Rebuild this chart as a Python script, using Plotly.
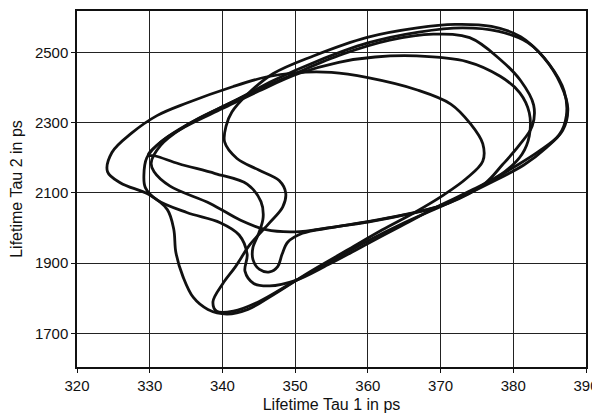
import plotly.graph_objects as go

# Tick labels
x_ticks = [320, 330, 340, 350, 360, 370, 380, 390]
y_ticks = [1700, 1900, 2100, 2300, 2500]

# Loop A: outer-left loop continuing into the inner "C"
loopA_x = [324.2, 324.8, 327.5, 331.0, 335.1, 341.5, 346.0, 350.0, 355.0, 360.0, 366.8, 371.4, 374.1, 375.8,
           375.8, 373.5, 370.5, 366.5, 362.0, 357.0, 352.0, 347.0, 343.5, 340.6, 338.0, 336.0, 334.6, 333.6,
           333.3, 332.4, 329.9, 326.0, 324.2]
loopA_y = [2160, 2215, 2270, 2320, 2356, 2403, 2430, 2442, 2443, 2428, 2393, 2353, 2297, 2240,
           2190, 2140, 2095, 2045, 1995, 1935, 1875, 1810, 1768, 1755, 1768, 1802, 1860, 1930,
           1997, 2053, 2095, 2128, 2160]

# Loop I: innermost vertical loop, wide on the right
loopI_x = [340.5, 341.3, 343.4, 347.0, 352.5, 359.9, 366.8, 372.0, 377.0, 381.0, 384.2, 386.5, 387.5, 386.8,
           384.5, 381.5, 377.0, 371.5, 365.0, 359.5, 354.5, 349.5, 345.0, 341.5, 339.2, 338.7, 340.0, 341.8,
           343.8, 346.5, 348.3, 348.7, 347.8, 345.0, 342.0, 340.3, 340.5]
loopI_y = [2290, 2330, 2380, 2440, 2490, 2543, 2570, 2580, 2574, 2545, 2485, 2410, 2340, 2278,
           2228, 2180, 2130, 2075, 2015, 1958, 1900, 1843, 1790, 1763, 1763, 1790, 1840, 1890,
           1953, 2015, 2060, 2100, 2135, 2165, 2198, 2245, 2290]

# Loop B: left tip near 330, lower side through the small notch
loopB_x = [329.8, 332.5, 336.5, 341.5, 347.0, 353.0, 360.0, 367.0, 373.0, 378.0, 382.0, 385.0, 387.0, 387.3,
           386.3, 383.5, 380.0, 375.5, 370.0, 365.0, 360.0, 355.0, 351.0, 349.0, 348.2, 347.6, 346.5, 345.1,
           344.2, 344.2, 345.0, 345.6, 345.3, 343.4, 339.0, 334.0, 330.8, 329.8]
loopB_y = [2208, 2260, 2310, 2360, 2420, 2475, 2527, 2558, 2570, 2560, 2528, 2465, 2390, 2320,
           2265, 2218, 2172, 2118, 2063, 2037, 2017, 2001, 1985, 1960, 1925, 1890, 1875, 1882,
           1910, 1945, 1985, 2030, 2075, 2125, 2155, 2183, 2205, 2208]

# Loop D: left tip near 330, lower side along the 2000 level
loopD_x = [330.2, 331.5, 334.5, 339.0, 344.0, 350.0, 356.5, 363.0, 369.0, 374.0, 378.2, 381.0, 382.8, 382.6,
           380.8, 378.5, 376.0, 371.0, 366.0, 360.0, 355.0, 350.0, 346.0, 342.5, 338.3, 332.8, 330.6, 330.2]
loopD_y = [2185, 2235, 2285, 2335, 2385, 2440, 2495, 2535, 2552, 2542, 2480, 2420, 2350, 2290,
           2235, 2180, 2125, 2070, 2042, 2018, 2002, 1989, 1995, 2022, 2070, 2119, 2160, 2185]

# Loop C: left tip near 329, lower side through the big U
loopC_x = [329.2, 329.6, 331.5, 335.0, 340.0, 345.0, 350.5, 356.0, 361.0, 366.7, 373.6, 378.2, 380.9, 382.2,
           382.2, 381.2, 378.8, 374.5, 369.5, 364.5, 359.5, 354.5, 350.0, 346.5, 344.3, 343.1, 343.4, 342.3,
           339.7, 335.1, 331.0, 329.4, 329.2]
loopC_y = [2150, 2200, 2245, 2290, 2340, 2390, 2440, 2472, 2487, 2490, 2474, 2432, 2385, 2328,
           2262, 2210, 2160, 2110, 2060, 2005, 1950, 1895, 1850, 1835, 1842, 1877, 1925, 1980,
           2015, 2044, 2080, 2115, 2150]

loops = [(loopA_x, loopA_y), (loopI_x, loopI_y), (loopB_x, loopB_y), (loopD_x, loopD_y), (loopC_x, loopC_y)]

fig = go.Figure()
for lx, ly in loops:
    fig.add_trace(go.Scatter(x=lx, y=ly, mode="lines",
                             line=dict(color="#111111", width=2.8, shape="spline", smoothing=1.0),
                             showlegend=False, hoverinfo="skip"))

font_family = "Liberation Sans, Arial, sans-serif"
axis_common = dict(showline=True, mirror=True, linecolor="#111111", linewidth=1.5,
                   showgrid=True, gridcolor="#222222", gridwidth=1, automargin=False,
                   ticks="outside", ticklen=4, tickcolor="#111111", zeroline=False,
                   tickfont=dict(family=font_family, size=15, color="#111111"))

fig.update_xaxes(range=[320, 390], tickvals=x_ticks, ticktext=[str(v) for v in x_ticks],
                 title=dict(text="Lifetime Tau 1 in ps", standoff=6,
                            font=dict(family=font_family, size=16, color="#111111")),
                 **axis_common)
fig.update_yaxes(range=[1604, 2618], tickvals=y_ticks, ticktext=[str(v) for v in y_ticks],
                 title=dict(text="Lifetime Tau 2 in ps", standoff=14,
                            font=dict(family=font_family, size=16, color="#111111")),
                 **axis_common)

# The page body adds an 8px offset, so the figure is sized to fit the window.
fig.update_layout(width=592, height=408, margin=dict(l=69, r=14, t=3, b=49),
                  paper_bgcolor="white", plot_bgcolor="white")

fig.write_html("out.html")
